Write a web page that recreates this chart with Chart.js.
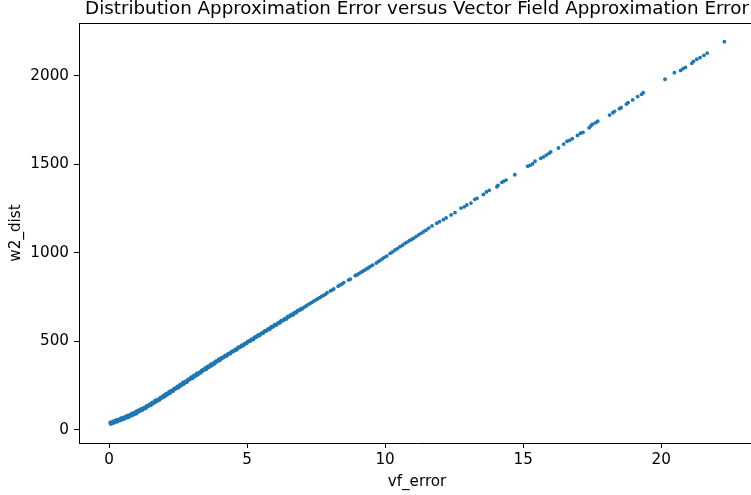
<!DOCTYPE html>
<html>
<head>
<meta charset="utf-8">
<script src="https://cdn.jsdelivr.net/npm/chart.js@4.4.0/dist/chart.umd.min.js"></script>
<style>
  html, body { margin: 0; padding: 0; background: #fff; overflow: hidden; }
  #wrap { width: 751px; height: 495px; overflow: hidden; }
  #wrap canvas { display: block; }
</style>
</head>
<body>
<div id="wrap"><canvas id="errChart" width="757" height="495"></canvas></div>
<script>
// vf_error / w2_dist samples, grouped by stretch of the curve
const vfStart = [
  0.04, 0.08, 0.12, 0.16, 0.20, 0.24, 0.28, 0.32, 0.36, 0.40,
  0.44, 0.48, 0.52, 0.56, 0.60, 0.64, 0.68, 0.72, 0.76, 0.80,
  0.84, 0.88, 0.92, 0.96, 1.00,
  0.06, 0.10, 0.14, 0.18, 0.22, 0.26, 0.30, 0.34, 0.38, 0.42,
  0.46, 0.50, 0.54, 0.58, 0.62, 0.66, 0.70, 0.74, 0.78, 0.82,
  0.86, 0.90, 0.94, 0.98
];
const w2Start = [
  43, 36, 44, 39, 51, 48, 58, 51, 58, 54,
  66, 60, 68, 63, 75, 73, 83, 77, 83, 80,
  93, 87, 96, 91, 104,
  34, 45, 42, 52, 44, 52, 47, 58, 57, 65,
  58, 69, 66, 76, 69, 77, 72, 84, 83, 92,
  85, 97, 94, 105
];

const vfRise = [
  1.05, 1.10, 1.15, 1.20, 1.25, 1.30, 1.35, 1.40, 1.45, 1.50,
  1.55, 1.60, 1.65, 1.70, 1.75, 1.80, 1.85, 1.90, 1.95, 2.00,
  2.05, 2.10, 2.15, 2.20, 2.25, 2.30, 2.35, 2.40, 2.45, 2.50,
  2.55, 2.60, 2.65, 2.70, 2.75, 2.80, 2.85, 2.90, 2.95, 3.00,
  3.05, 3.10, 3.15, 3.20, 3.25, 3.30, 3.35, 3.40, 3.45, 3.50,
  3.55, 3.60, 3.65, 3.70, 3.75, 3.80, 3.85, 3.90, 3.95, 4.00,
  1.025, 1.075, 1.125, 1.175, 1.225, 1.275, 1.325, 1.375, 1.425, 1.475,
  1.525, 1.575, 1.625, 1.675, 1.725, 1.775, 1.825, 1.875, 1.925, 1.975,
  2.025, 2.075, 2.125, 2.175, 2.225, 2.275, 2.325, 2.375, 2.425, 2.475,
  2.525, 2.575, 2.625, 2.675, 2.725, 2.775, 2.825, 2.875, 2.925, 2.975,
  3.025, 3.075, 3.125, 3.175, 3.225, 3.275, 3.325, 3.375, 3.425, 3.475,
  3.525, 3.575, 3.625, 3.675, 3.725, 3.775, 3.825, 3.875, 3.925, 3.975
];
const w2Rise = [
  108, 106, 114, 113, 124, 125, 134, 132, 140, 139,
  152, 150, 159, 159, 171, 171, 181, 180, 188, 188,
  201, 199, 208, 208, 221, 222, 232, 231, 239, 239,
  252, 250, 260, 260, 272, 273, 283, 283, 291, 291,
  304, 302, 311, 311, 323, 325, 335, 334, 342, 342,
  355, 353, 362, 362, 374, 376, 386, 385, 393, 393,
  97, 112, 109, 121, 115, 126, 122, 136, 136, 146,
  141, 156, 154, 167, 162, 172, 169, 184, 184, 195,
  190, 205, 203, 216, 211, 223, 220, 235, 235, 246,
  241, 256, 254, 268, 263, 274, 271, 286, 287, 298,
  293, 308, 306, 319, 314, 325, 323, 338, 338, 349,
  344, 359, 357, 370, 365, 376, 374, 389, 389, 400
];

const vfMid = [
  4.06, 4.12, 4.18, 4.24, 4.30, 4.36, 4.42, 4.48, 4.54, 4.60,
  4.66, 4.72, 4.78, 4.84, 4.90, 4.96, 5.02, 5.08, 5.14, 5.20,
  5.26, 5.32, 5.38, 5.44, 5.50, 5.56, 5.62, 5.68, 5.74, 5.80,
  5.86, 5.92, 5.98, 6.04, 6.10, 6.16, 6.22, 6.28, 6.34, 6.40,
  6.46, 6.52, 6.58, 6.64, 6.70, 6.76, 6.82, 6.88, 6.94, 7.00,
  4.03, 4.09, 4.15, 4.21, 4.27, 4.33, 4.39, 4.45, 4.51, 4.57,
  4.63, 4.69, 4.75, 4.81, 4.87, 4.93, 4.99, 5.05, 5.11, 5.17,
  5.23, 5.29, 5.35, 5.41, 5.47, 5.53, 5.59, 5.65, 5.71, 5.77,
  5.83, 5.89, 5.95, 6.01, 6.07, 6.13, 6.19, 6.25, 6.31, 6.37,
  6.43, 6.49, 6.55, 6.61, 6.67, 6.73, 6.79, 6.85, 6.91, 6.97
];
const w2Mid = [
  406, 407, 415, 417, 428, 432, 441, 442, 450, 452,
  464, 465, 473, 475, 486, 490, 499, 500, 508, 510,
  522, 523, 532, 533, 544, 548, 557, 559, 566, 568,
  580, 581, 590, 591, 602, 606, 615, 617, 624, 626,
  638, 639, 648, 649, 660, 664, 673, 675, 682, 684,
  396, 409, 411, 421, 420, 430, 431, 443, 445, 455,
  454, 467, 469, 479, 478, 488, 489, 501, 503, 513,
  512, 525, 527, 537, 536, 546, 547, 559, 561, 571,
  570, 583, 585, 595, 594, 604, 605, 617, 619, 629,
  628, 641, 643, 653, 652, 662, 663, 675, 677, 687
];

const vfUpper = [
  7.07, 7.14, 7.21, 7.28, 7.35, 7.42, 7.49, 7.56, 7.63, 7.70,
  7.77, 7.84, 7.90, 8.02, 8.08, 8.14, 8.30, 8.36, 8.43, 8.50,
  8.68, 8.74, 8.92, 8.98, 9.05, 9.12, 9.19, 9.26, 9.33, 9.40,
  9.47, 9.55, 9.68, 9.75, 9.82, 9.90, 9.97,
  10.06, 10.18, 10.27, 10.36, 10.45, 10.54, 10.63, 10.72, 10.80, 10.88,
  10.96, 11.03, 11.12, 11.21, 11.30, 11.39, 11.48, 11.58, 11.70, 11.87,
  11.97, 12.11, 12.21, 12.39, 12.53, 12.75, 12.87, 12.96, 13.11, 13.25,
  13.33
];
const w2Upper = [
  694, 700, 708, 714, 720, 728, 734, 741, 747, 754,
  760, 766, 775, 785, 790, 796, 812, 818, 823, 832,
  847, 852, 872, 875, 883, 889, 896, 903, 910, 916,
  924, 931, 942, 950, 958, 966, 975,
  982, 997, 1005, 1016, 1024, 1035, 1043, 1054, 1061, 1069,
  1076, 1082, 1092, 1101, 1110, 1119, 1128, 1140, 1152, 1167,
  1176, 1187, 1197, 1214, 1227, 1253, 1260, 1270, 1281, 1302,
  1308
];

const vfTail = [
  13.56, 13.67, 13.77, 14.05, 14.09, 14.23, 14.29, 14.38, 14.70, 15.17,
  15.25, 15.34, 15.43, 15.64, 15.74, 15.84, 15.94, 16.00, 16.28, 16.47,
  16.59, 16.68, 16.78, 16.97, 17.08, 17.17, 17.39, 17.45, 17.51, 17.63,
  17.70, 18.13, 18.25, 18.31, 18.49, 18.55, 18.74, 18.80, 18.97, 19.15,
  19.29, 19.35, 20.14, 20.48, 20.71, 20.80, 20.88, 21.11, 21.17, 21.29,
  21.41, 21.55, 21.67, 22.29
];
const w2Tail = [
  1330, 1344, 1353, 1373, 1381, 1398, 1404, 1411, 1441, 1489,
  1494, 1502, 1517, 1534, 1541, 1552, 1562, 1570, 1592, 1614,
  1630, 1635, 1644, 1663, 1675, 1680, 1706, 1716, 1726, 1735,
  1743, 1778, 1791, 1799, 1814, 1819, 1840, 1848, 1863, 1882,
  1895, 1904, 1980, 2017, 2030, 2040, 2047, 2070, 2081, 2093,
  2102, 2115, 2128, 2192
];

const xTicks = [0, 5, 10, 15, 20];
const yTicks = [0, 500, 1000, 1500, 2000];

const titleText = "Distribution Approximation Error versus Vector Field Approximation Error";

const vfError = [...vfStart, ...vfRise, ...vfMid, ...vfUpper, ...vfTail];
const w2Dist = [...w2Start, ...w2Rise, ...w2Mid, ...w2Upper, ...w2Tail];
const points = vfError.map((x, i) => ({ x: x, y: w2Dist[i] }));

Chart.defaults.font.family = "'DejaVu Sans', sans-serif";
Chart.defaults.color = "#000";

// box top/right edges + title above the axes
const framePlugin = {
  id: "frame",
  afterDraw(chart) {
    const { ctx, chartArea } = chart;
    ctx.save();
    ctx.strokeStyle = "#000";
    ctx.lineWidth = 1;
    ctx.beginPath();
    ctx.moveTo(chartArea.left, chartArea.top + 0.5);
    ctx.lineTo(chartArea.right + 0.5, chartArea.top + 0.5);
    ctx.lineTo(chartArea.right + 0.5, chartArea.bottom);
    ctx.stroke();
    ctx.fillStyle = "#000";
    ctx.font = "18.3px 'DejaVu Sans'";
    ctx.textAlign = "center";
    ctx.textBaseline = "alphabetic";
    ctx.fillText(titleText, (chartArea.left + chartArea.right) / 2, chartArea.top - 9);
    ctx.restore();
  },
};

const axisGrid = {
  display: true,
  drawOnChartArea: false,
  drawTicks: true,
  tickLength: 5,
  color: "#000",
  lineWidth: 1,
};

const ctx = document.getElementById("errChart");
const chart = new Chart(ctx, {
  type: "scatter",
  data: {
    datasets: [
      {
        data: points,
        backgroundColor: "#1f77b4",
        borderWidth: 0,
        pointRadius: 1.9,
        pointHoverRadius: 1.9,
      },
    ],
  },
  options: {
    responsive: false,
    animation: false,
    events: [],
    layout: { padding: { top: 23, right: 2, left: 0, bottom: 0 } },
    plugins: {
      legend: { display: false },
      tooltip: { enabled: false },
    },
    scales: {
      x: {
        type: "linear",
        min: -1.09,
        max: 23.4,
        afterBuildTicks: (scale) => {
          scale.ticks = xTicks.map((v) => ({ value: v }));
        },
        afterFit: (scale) => {
          scale.height = 52;
        },
        grid: axisGrid,
        border: { display: true, color: "#000", width: 1 },
        ticks: {
          font: { size: 15.2 },
          color: "#000",
          padding: 3,
          maxRotation: 0,
          callback: (v) => String(v),
        },
        title: {
          display: true,
          text: "vf_error",
          font: { size: 15.2 },
          color: "#000",
          padding: { top: 0, bottom: 3.9 },
        },
      },
      y: {
        type: "linear",
        min: -73.4,
        max: 2297.5,
        afterBuildTicks: (scale) => {
          scale.ticks = yTicks.map((v) => ({ value: v }));
        },
        afterFit: (scale) => {
          scale.width = 79;
        },
        grid: axisGrid,
        border: { display: true, color: "#000", width: 1 },
        ticks: {
          font: { size: 15.2 },
          color: "#000",
          padding: 5,
          callback: (v) => String(v),
        },
        title: {
          display: true,
          text: "w2_dist",
          font: { size: 15.2 },
          color: "#000",
          padding: { top: 6.9, bottom: 0 },
        },
      },
    },
  },
  plugins: [framePlugin],
});
</script>
</body>
</html>
